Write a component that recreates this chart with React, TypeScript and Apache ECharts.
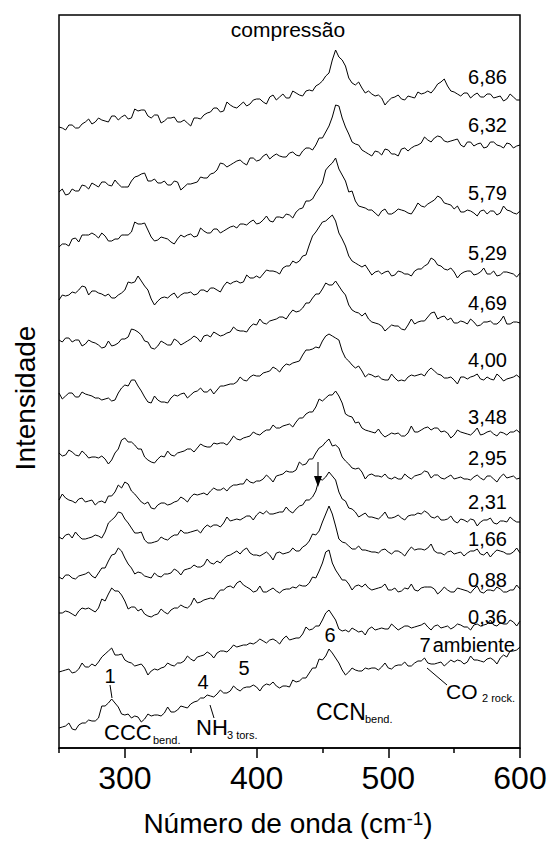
import React, { useEffect, useRef } from "react";
import * as echarts from "echarts";

// Raman shift grid (cm-1): main points 250..600 every 5, mid points 252.5..597.5
const WAVENUMBERS: number[] = [];
for (let w = 250; w <= 600; w += 5) WAVENUMBERS.push(w);

const PRESSURE_LABELS = ["6,86", "6,32", "5,79", "5,29", "4,69", "4,00", "3,48", "2,95", "2,31", "1,66", "0,88", "0,36", "ambiente"];

// Intensities (arbitrary units, vertically offset), top to bottom; S_* at the main points, M_* at the mid points
const S_686 = [621,618,623,620,626,624,630,627,632,628,633,630,637,638,630,633,627,630,626,628,622,630,633,636,640,637,643,640,646,644,649,646,651,648,654,650,655,652,658,662,667,675,698,688,670,663,660,657,652,650,647,651,649,652,650,654,657,659,666,662,656,652,655,653,651,654,650,652,649,651,648];
const M_686 = [620,623,620,624,629,626,628,626,632,631,629,639,638,632,633,625,630,631,626,625,630,629,635,640,636,646,641,643,642,648,649,644,653,651,650,657,653,657,657,664,672,688,691,682,665,666,655,654,653,643,650,653,648,651,656,655,655,664,669,657,654,655,650,655,651,654,651,647,654,648];
const S_632 = [556,553,559,557,562,565,561,566,562,564,561,567,572,575,567,565,567,563,566,561,564,566,570,574,578,584,583,587,585,590,587,592,589,594,591,595,593,597,600,603,610,622,643,630,614,604,598,594,597,593,598,594,599,597,602,605,608,610,611,606,608,603,606,602,605,601,606,602,605,600,603];
const M_632 = [559,554,557,563,559,563,566,563,568,561,561,571,574,567,569,565,563,567,558,564,565,571,570,575,585,581,585,588,583,590,588,594,592,592,591,596,592,600,598,610,616,631,642,621,606,603,596,592,596,599,594,592,600,600,603,611,606,612,607,607,609,601,606,604,600,606,603,600,604,602];
const S_579 = [501,504,509,506,513,515,510,512,507,509,513,516,524,525,511,508,510,506,509,511,514,512,517,515,519,517,521,520,524,526,524,528,527,531,530,533,536,540,547,555,565,582,590,573,556,547,541,538,535,537,534,536,538,535,539,542,544,548,550,544,539,536,538,535,537,534,537,535,538,535,537];
const M_579 = [504,502,510,513,513,513,515,507,509,513,513,526,524,518,507,511,509,504,513,513,511,520,515,519,515,519,522,524,523,528,525,532,526,531,534,530,539,547,549,560,578,585,579,567,557,542,540,538,532,539,534,539,537,534,545,541,546,552,545,543,542,536,537,532,538,537,533,542,537,534];
const S_529 = [448,452,456,458,461,457,455,452,450,453,458,465,472,462,449,447,451,453,450,455,456,454,458,460,458,462,464,467,466,470,472,474,477,476,480,482,485,492,503,516,526,530,527,509,492,485,481,478,476,474,477,473,476,474,477,479,484,488,482,478,476,474,477,473,476,474,477,473,476,474,475];
const M_529 = [453,453,455,462,453,457,454,454,450,455,466,466,467,458,443,450,450,455,453,455,453,458,456,460,456,466,466,465,473,470,470,478,477,474,482,487,487,493,512,521,527,533,515,502,487,483,483,473,477,476,472,477,474,472,479,482,490,483,479,480,470,476,477,474,480,474,472,476,475,471];
const S_469 = [408,410,406,408,404,406,403,401,402,405,409,419,416,407,400,402,405,403,407,405,409,410,412,411,414,413,416,418,417,421,423,425,427,429,431,434,436,440,445,454,459,463,467,457,443,436,432,429,425,422,420,422,419,423,424,427,431,436,431,428,425,427,424,426,423,426,424,427,424,426,425];
const M_469 = [406,410,408,402,408,405,400,407,403,409,411,418,413,406,399,407,403,409,403,407,412,406,413,416,412,415,421,417,416,424,429,424,428,431,429,438,437,445,450,454,465,463,462,453,438,435,435,426,424,417,423,422,418,429,426,427,435,429,432,430,425,426,429,422,426,427,424,432,424,426];
const S_400 = [355,352,355,351,354,352,350,349,347,355,363,368,362,351,345,348,346,350,352,355,353,357,356,359,358,362,364,366,368,371,372,375,377,379,381,383,386,393,398,401,407,414,410,397,387,380,377,374,371,369,368,370,368,371,372,374,377,377,373,370,368,371,369,372,369,371,368,371,369,371,370];
const M_400 = [349,355,351,356,353,350,348,350,348,360,362,368,357,346,352,346,345,353,354,350,356,360,356,354,362,363,364,371,367,373,372,376,381,376,384,385,387,398,399,400,412,412,408,390,383,382,371,373,372,368,374,367,367,373,373,372,380,374,370,371,364,371,371,374,368,369,374,367,370,373];
const S_348 = [295,293,296,292,294,291,290,289,288,299,310,306,299,291,286,289,291,293,295,297,299,300,302,301,304,305,307,309,310,312,314,316,318,320,322,324,326,330,336,341,347,353,357,345,332,325,320,317,315,314,313,314,312,315,316,318,321,320,316,315,313,316,314,316,313,316,314,316,313,316,315];
const M_348 = [292,298,293,297,290,291,292,284,295,308,306,303,299,288,285,292,297,292,296,299,296,304,301,305,305,303,312,308,311,316,313,318,323,320,323,321,330,334,336,349,350,353,352,334,331,326,318,316,319,311,315,315,312,322,316,320,318,320,317,310,318,315,313,320,314,317,312,315,316,318];
const S_295 = [248,250,247,249,246,248,246,245,252,263,266,257,250,244,240,243,245,244,247,249,251,253,255,257,258,260,261,263,264,266,267,269,270,272,274,276,278,283,289,295,302,309,303,291,284,279,276,273,272,271,270,271,269,271,272,274,276,273,270,271,269,271,269,271,270,272,269,271,270,272,270];
const M_295 = [254,248,245,250,247,243,247,252,256,260,264,254,246,246,239,245,243,246,251,246,254,254,253,260,258,257,263,264,269,265,267,273,266,273,277,276,286,284,289,300,306,302,300,287,280,280,269,274,272,274,269,269,274,269,273,277,270,273,269,273,270,269,268,273,268,272,266,274,271,269];
const S_231 = [211,213,210,212,209,211,212,216,228,236,229,220,215,208,205,207,209,211,213,215,216,218,220,221,223,225,227,229,230,232,233,234,234,235,236,237,239,243,248,257,268,276,268,249,240,236,233,231,230,232,230,231,230,232,233,234,235,230,228,229,227,229,226,228,226,228,225,227,226,228,226];
const M_231 = [209,214,216,209,210,213,210,225,231,235,225,215,216,205,206,211,208,213,218,215,217,215,223,223,221,231,228,228,232,228,236,237,234,236,241,235,242,248,251,269,271,272,256,247,239,231,235,231,229,236,230,233,228,233,235,237,231,232,228,232,225,228,229,222,228,230,224,227,231,226];
const S_166 = [171,173,170,172,174,172,175,180,193,200,190,180,176,172,170,172,174,175,177,178,180,181,183,185,187,189,193,197,198,195,193,194,193,195,194,196,197,201,207,213,226,242,222,206,202,199,198,197,196,198,196,197,195,197,198,199,200,197,195,196,194,196,195,197,194,196,195,197,194,196,195];
const M_166 = [169,173,169,173,176,170,180,187,194,197,184,174,175,171,175,171,174,179,173,179,183,181,189,184,185,192,195,194,200,193,192,196,188,196,195,200,197,203,214,217,234,234,209,205,199,202,198,196,195,199,194,197,192,201,199,198,204,195,193,197,195,192,197,199,193,191,198,196,194,200];
const S_088 = [135,137,134,137,139,138,140,147,160,157,147,141,137,134,131,134,136,138,140,141,143,145,148,150,154,158,162,165,163,159,157,156,158,157,158,159,160,162,165,170,185,198,178,168,164,162,161,160,159,161,158,160,157,159,158,160,161,159,157,158,156,159,157,159,156,158,157,159,156,158,159];
const M_088 = [135,136,132,140,140,136,149,154,157,153,139,141,139,132,133,139,134,140,143,140,150,146,149,149,158,161,160,167,161,156,162,156,160,155,159,161,163,162,171,177,196,185,173,168,158,163,164,158,160,164,158,156,160,164,157,161,161,154,161,156,160,158,155,162,155,158,161,156,158,163];
const S_036 = [76,78,75,79,81,84,86,94,100,93,88,85,83,80,77,78,81,83,85,87,89,91,93,94,95,97,99,101,103,105,106,107,108,107,109,108,110,114,118,122,128,138,128,117,116,118,117,119,118,120,119,121,120,122,121,123,121,122,120,122,121,123,121,123,122,124,123,125,124,126,127];
const M_036 = [77,79,76,85,81,82,91,97,93,94,86,82,84,73,79,80,85,82,85,92,87,92,96,90,97,96,103,102,103,104,109,105,109,104,112,109,110,121,119,122,135,133,119,118,120,116,113,121,119,119,124,118,122,120,122,125,118,123,121,119,124,121,118,124,123,128,122,124,128,122];
const S_AMB = [20,22,19,23,25,27,30,42,49,41,33,30,31,29,32,33,35,36,38,41,44,47,50,52,54,55,57,59,60,61,61,62,63,62,62,61,66,70,75,80,88,99,90,78,76,78,77,79,80,81,80,82,83,82,85,87,85,84,86,85,86,87,86,88,87,89,88,90,91,97,101];
const M_AMB = [21,25,18,25,28,27,42,45,45,34,34,32,26,34,33,32,41,36,42,40,46,50,53,51,58,55,62,57,61,63,57,64,66,60,62,68,67,70,80,89,92,95,85,73,80,77,80,80,78,85,79,83,86,82,87,90,84,85,82,88,88,84,92,88,86,90,84,93,97,98];

const SPECTRA = [S_686, S_632, S_579, S_529, S_469, S_400, S_348, S_295, S_231, S_166, S_088, S_036, S_AMB];
const MIDS = [M_686, M_632, M_579, M_529, M_469, M_400, M_348, M_295, M_231, M_166, M_088, M_036, M_AMB];

const X_TICK_LABELS = [300, 400, 500, 600];
const X_MINOR_TICKS = [250, 350, 450, 550];

const FONT = "Liberation Sans, Arial, Helvetica, sans-serif";

export default function App() {
  const ref = useRef<HTMLDivElement>(null);
  useEffect(() => {
    if (!ref.current) return;
    const chart = echarts.init(ref.current, null, { renderer: "svg" });

    const series = SPECTRA.map((vals, k) => {
      const mids = MIDS[k];
      const data: number[][] = [];
      WAVENUMBERS.forEach((w, i) => {
        data.push([w, vals[i]]);
        if (i < mids.length) data.push([w + 2.5, mids[i]]);
      });
      return {
        name: PRESSURE_LABELS[k],
        type: "line",
        showSymbol: false,
        symbol: "none",
        silent: true,
        lineStyle: { color: "#000", width: 1 },
        data,
      };
    });

    const pressurePos = [77, 125, 193, 253, 303, 360, 417, 458, 502, 539, 580, 617];
    const txt = (text: string, x: number, y: number, size: number, align = "left") => ({
      type: "text",
      x,
      y,
      style: { text, fontSize: size, fontFamily: FONT, fill: "#000", align, verticalAlign: "middle" },
    });

    const graphics: any[] = [];
    pressurePos.forEach((y, k) => graphics.push(txt(PRESSURE_LABELS[k], 507, y, 20, "right")));
    graphics.push(txt("ambiente", 515, 645, 20, "right"));
    graphics.push(txt("compressão", 288, 29, 21, "center"));
    graphics.push(txt("1", 110, 676, 20, "center"));
    graphics.push(txt("4", 203, 682, 20, "center"));
    graphics.push(txt("5", 244, 668, 20, "center"));
    graphics.push(txt("6", 330, 635, 20, "center"));
    graphics.push(txt("7", 425, 645, 20, "center"));
    graphics.push(txt("CCC", 104, 732, 22));
    graphics.push(txt("bend.", 153, 740, 11));
    graphics.push(txt("NH", 196, 727, 22));
    graphics.push(txt("3 tors.", 227, 735, 11));
    graphics.push(txt("CCN", 316, 712, 23));
    graphics.push(txt("bend.", 365, 719, 11));
    graphics.push(txt("CO", 446, 691, 21));
    graphics.push(txt("2 rock.", 482, 698, 11));
    graphics.push({
      type: "text",
      x: 25,
      y: 398,
      rotation: Math.PI / 2,
      style: { text: "Intensidade", fontSize: 28, fontFamily: FONT, fill: "#000", align: "center", verticalAlign: "middle" },
    });
    graphics.push({
      type: "text",
      x: 288,
      y: 823,
      style: {
        text: "{a|Número de onda (cm}{b|-1}{a|)}",
        fontFamily: FONT,
        align: "center",
        verticalAlign: "middle",
        rich: {
          a: { fontSize: 28, fontFamily: FONT, fill: "#000", color: "#000", verticalAlign: "bottom", lineHeight: 28 },
          b: { fontSize: 19, fontFamily: FONT, fill: "#000", color: "#000", verticalAlign: "top", lineHeight: 28, padding: [0, 0, 10, 0] },
        },
      },
    });
    const line = (x1: number, y1: number, x2: number, y2: number) => ({
      type: "line",
      shape: { x1, y1, x2, y2 },
      style: { stroke: "#000", lineWidth: 1 },
    });
    graphics.push(line(110, 685, 112, 698));
    graphics.push(line(210, 705, 214, 718));
    graphics.push(line(427, 668, 447, 685));
    graphics.push(line(318, 462, 318, 478));
    graphics.push({
      type: "polygon",
      shape: { points: [[314, 476], [322, 476], [318, 487]] },
      style: { fill: "#000" },
    });

    chart.setOption({
      animation: false,
      backgroundColor: "#fff",
      grid: { left: 59, right: 32, top: 15, bottom: 93, show: true, borderColor: "#000", borderWidth: 1.5, backgroundColor: "transparent" },
      xAxis: [
        {
          type: "value",
          min: 250,
          max: 600,
          interval: 50,
          axisLine: { show: true, lineStyle: { color: "#000", width: 1.5 } },
          axisTick: { show: true, customValues: X_TICK_LABELS, length: 10, inside: false, lineStyle: { color: "#000", width: 1.5 } },
          axisLabel: { customValues: X_TICK_LABELS, fontSize: 32, fontFamily: FONT, color: "#000", margin: 14 },
          splitLine: { show: false },
        },
        {
          type: "value",
          min: 250,
          max: 600,
          interval: 50,
          position: "bottom",
          axisLine: { show: false },
          axisTick: { show: true, customValues: X_MINOR_TICKS, length: 5, inside: false, lineStyle: { color: "#000", width: 1.5 } },
          axisLabel: { show: false },
          splitLine: { show: false },
        },
      ],
      yAxis: {
        type: "value",
        min: 0,
        max: 733,
        axisLine: { show: false },
        axisTick: { show: false },
        axisLabel: { show: false },
        splitLine: { show: false },
      },
      series,
      graphic: graphics,
    });
    return () => chart.dispose();
  }, []);
  return <div ref={ref} style={{ position: "fixed", left: 0, top: 0, width: 552, height: 841 }} />;
}
